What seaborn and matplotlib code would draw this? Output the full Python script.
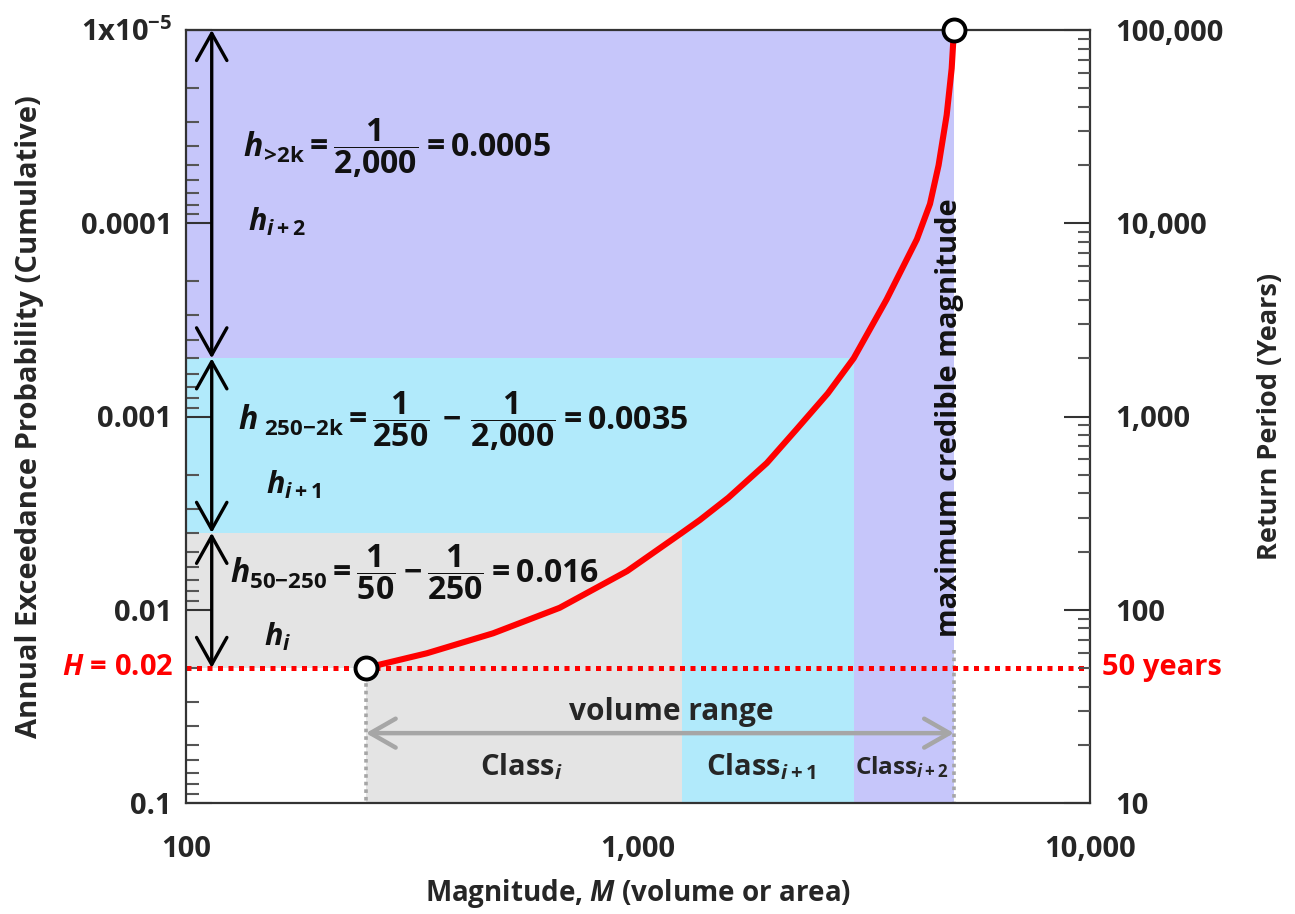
import numpy as np
import matplotlib
matplotlib.use("Agg")
import matplotlib.pyplot as plt
import seaborn as sns
from matplotlib.ticker import LogLocator, NullFormatter

# %% data
x_ticks = [100, 1000, 10000]
x_tick_labels = ["100", "1,000", "10,000"]
p_ticks = [1e-5, 1e-4, 1e-3, 1e-2, 1e-1]
p_tick_labels = [r"1x10$^{-5}$", "0.0001", "0.001", "0.01", "0.1"]
rp_ticks = [10, 100, 1000, 10000, 100000]
rp_tick_labels = ["10", "100", "1,000", "10,000", "100,000"]

# magnitude class edges: min volume, Class i | i+1, Class i+1 | i+2, max credible
class_edges = [250, 1250, 3000, 5000]
# exceedance probabilities at those edges (1/50, 1/250, 1/2000, 1/100000)
class_hazard = [0.02, 0.004, 0.0005, 1e-5]
class_names = [r"Class$_{\mathit{i}}$", r"Class$_{\mathit{i+1}}$", r"Class$_{\mathit{i+2}}$"]
class_label_M = [552, 1870, 3840]

# hazard curve
curve_M = [250, 341, 478, 671, 946, 1250, 1371, 1585, 1928, 2239, 2630, 3000,
           3548, 4140, 4426, 4624, 4819, 4943, 5000]
curve_p = [0.02, 0.0168, 0.01324, 0.00977, 0.00631, 0.004, 0.00343, 0.00263, 0.00174,
           0.00117, 0.000759, 0.0005, 0.000248, 0.000121, 7.94e-5, 5.01e-5, 2.75e-5,
           1.58e-5, 1e-5]

eq_texts = [
    r"$h_{\!>\!2\mathrm{k}} = \dfrac{1}{2{,}000} = 0.0005$",
    r"$h_{\ \mathrm{250{-}2k}} = \dfrac{1}{250}\,-\,\dfrac{1}{2{,}000} = 0.0035$",
    r"$h_{\mathrm{50{-}250}} = \dfrac{1}{50}-\dfrac{1}{250} = 0.016$",
]
eq_pos = [(134, 4.1e-5), (130, 0.00106), (125, 0.0064)]
h_texts = [r"$h_{\mathit{i+2}}$", r"$h_{\mathit{i+1}}$", r"$h_{\mathit{i}}$"]
h_pos = [(137, 9.8e-5), (150, 0.00225), (149, 0.0138)]

# %% style
sns.set_style("white")
plt.rcParams["font.family"] = ["Open Sans", "DejaVu Sans"]
plt.rcParams["mathtext.fontset"] = "custom"
plt.rcParams["mathtext.rm"] = "Open Sans:bold"
plt.rcParams["mathtext.it"] = "Open Sans:bold:italic"
plt.rcParams["mathtext.bf"] = "Open Sans:bold"
plt.rcParams["mathtext.sf"] = "Open Sans:bold"

purple = "#c6c6fa"
cyan = "#b1eafb"
grey = "#e4e4e4"
ink = "#262626"
dots = (0, (1, 1.1))

fig = plt.figure(figsize=(12.95, 9.14), dpi=100)
ax = fig.add_axes([186 / 1295, 1 - 803 / 914, 904 / 1295, 773 / 914])

xmin, xmax = x_ticks[0], x_ticks[-1]
pmin, pmax = p_ticks[0], p_ticks[-1]

# %% class bands
ax.fill_between([xmin, class_edges[3]], class_hazard[3], class_hazard[2], color=purple, lw=0, zorder=0)
ax.fill_between([class_edges[2], class_edges[3]], class_hazard[2], pmax, color=purple, lw=0, zorder=0)
ax.fill_between([xmin, class_edges[2]], class_hazard[2], class_hazard[1], color=cyan, lw=0, zorder=0)
ax.fill_between([class_edges[1], class_edges[2]], class_hazard[1], pmax, color=cyan, lw=0, zorder=0)
ax.fill_between([xmin, class_edges[1]], class_hazard[1], class_hazard[0], color=grey, lw=0, zorder=0)
ax.fill_between([class_edges[0], class_edges[1]], class_hazard[0], pmax, color=grey, lw=0, zorder=0)

# %% reference lines
ax.axhline(class_hazard[0], color="red", lw=3.6, ls=dots, zorder=3)
ax.plot([class_edges[0]] * 2, [class_hazard[0], pmax], color="#a6a6a6", lw=2.6, ls=dots, zorder=2)
ax.plot([class_edges[3]] * 2, [0.0162, pmax], color="#a6a6a6", lw=2.6, ls=dots, zorder=2)

# %% hazard curve + end points
sns.lineplot(x=curve_M, y=curve_p, ax=ax, color="red", lw=4.4, sort=False, estimator=None, zorder=4)
sns.scatterplot(x=[curve_M[0], curve_M[-1]], y=[curve_p[0], curve_p[-1]], ax=ax, s=250,
                color="white", edgecolor="black", linewidth=2.8, zorder=6, clip_on=False)

# %% arrows
arrow_x = 114
for top, bottom in [(class_hazard[3], class_hazard[2]), (class_hazard[2], class_hazard[1]),
                    (class_hazard[1], class_hazard[0])]:
    ax.annotate("", xy=(arrow_x, top), xytext=(arrow_x, bottom),
                arrowprops=dict(arrowstyle="<->,head_length=0.75,head_width=0.42", color="black",
                                lw=2.4, shrinkA=0, shrinkB=0, mutation_scale=26), zorder=5)

ax.annotate("", xy=(class_edges[0], 0.0435), xytext=(class_edges[3], 0.0435),
            arrowprops=dict(arrowstyle="<->,head_length=0.7,head_width=0.4", color="#a6a6a6",
                            lw=3.2, shrinkA=0, shrinkB=0, mutation_scale=26), zorder=5)
ax.text(1185, 0.034, "volume range", ha="center", va="center", fontsize=21.5, fontweight="bold", color=ink)

for name, xm, fs in zip(class_names, class_label_M, [21, 21, 17.5]):
    ax.text(xm, 0.065, name, ha="center", va="center", fontsize=fs, fontweight="bold", color=ink)

ax.text(4900, 0.00101, "maximum credible magnitude", rotation=90, ha="center", va="center",
        fontsize=21, fontweight="bold", color="#111111")

for t, (xm, pv) in zip(eq_texts, eq_pos):
    ax.text(xm, pv, t, ha="left", va="center", fontsize=23, color="#111111")
for t, (xm, pv) in zip(h_texts, h_pos):
    ax.text(xm, pv, t, ha="left", va="center", fontsize=22, color="#111111")

# %% axes
ax.set_xscale("log")
ax.set_yscale("log")
ax.set_xlim(xmin, xmax)
ax.set_ylim(pmax, pmin)
ax.set_xticks(x_ticks, x_tick_labels)
ax.set_yticks(p_ticks, p_tick_labels)
ax.xaxis.set_minor_locator(LogLocator(base=10, subs=np.arange(2, 10)))
ax.yaxis.set_minor_locator(LogLocator(base=10, subs=np.arange(2, 10)))
ax.xaxis.set_minor_formatter(NullFormatter())
ax.yaxis.set_minor_formatter(NullFormatter())
ax.tick_params(which="major", direction="in", length=19, width=1.5, color="#333333",
               labelsize=21, labelcolor=ink)
ax.tick_params(which="minor", direction="in", length=9, width=1.5, color="#555555")
ax.tick_params(axis="x", which="major", pad=23)
ax.tick_params(axis="y", which="major", pad=10)
ax.tick_params(top=False, right=False, which="both")
for lab in ax.get_xticklabels() + ax.get_yticklabels():
    lab.set_fontweight("bold")
for side in ["left", "bottom", "right", "top"]:
    ax.spines[side].set_color("#333333")
    ax.spines[side].set_linewidth(1.6)
    ax.spines[side].set_zorder(3.5)

ax.set_xlabel(r"Magnitude, $\mathit{M}$ (volume or area)", fontsize=20, fontweight="bold", color=ink)
ax.xaxis.set_label_coords(0.5, -0.096)
ax.set_ylabel("Annual Exceedance Probability (Cumulative)", fontsize=21, fontweight="bold", color=ink)
ax.yaxis.set_label_coords(-0.157, 0.5)

ax.text(-0.014, class_hazard[0], r"$\mathit{H}$ = 0.02", transform=ax.get_yaxis_transform(),
        ha="right", va="center", fontsize=21, fontweight="bold", color="red")

ax2 = ax.twinx()
ax2.set_yscale("log")
ax2.set_ylim(rp_ticks[0], rp_ticks[-1])
ax2.set_yticks(rp_ticks, rp_tick_labels)
ax2.yaxis.set_minor_locator(LogLocator(base=10, subs=np.arange(2, 10)))
ax2.yaxis.set_minor_formatter(NullFormatter())
ax2.tick_params(which="major", direction="in", length=19, width=1.5, color="#333333",
                labelsize=21, labelcolor=ink, pad=18)
ax2.tick_params(which="minor", direction="in", length=9, width=1.5, color="#555555")
for lab in ax2.get_yticklabels():
    lab.set_fontweight("bold")
for side in ax2.spines:
    ax2.spines[side].set_visible(False)
ax2.set_ylabel("Return Period (Years)", fontsize=19.5, fontweight="bold", color=ink)
ax2.yaxis.set_label_coords(1.185, 0.5)
ax2.text(1.013, 1 / class_hazard[0], "50 years", transform=ax2.get_yaxis_transform(),
         ha="left", va="center", fontsize=21, fontweight="bold", color="red")

fig.savefig("out.png", dpi=100)
